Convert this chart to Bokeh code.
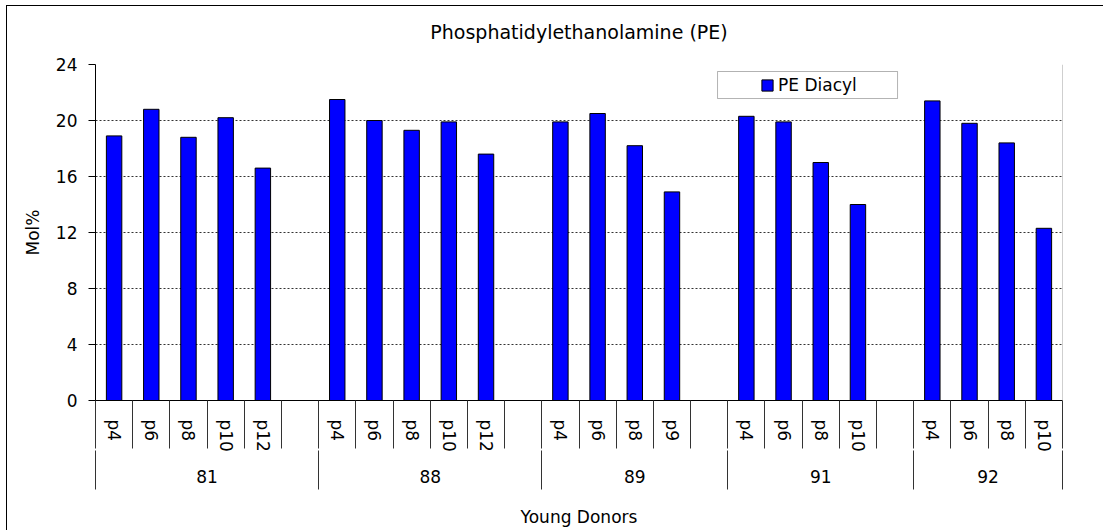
from bokeh.plotting import figure
from bokeh.models import (Range1d, FixedTicker, LinearAxis, Legend, LegendItem,
                          BoxAnnotation, Span)
from bokeh.embed import file_html
from bokeh.resources import INLINE

# ---------------- data ----------------
title_text = "Phosphatidylethanolamine (PE)"
series_name = "PE Diacyl"
y_label = "Mol%"
x_label = "Young Donors"

donors = ["81", "88", "89", "91", "92"]
passages = [
    ["p4", "p6", "p8", "p10", "p12"],
    ["p4", "p6", "p8", "p10", "p12"],
    ["p4", "p6", "p8", "p9"],
    ["p4", "p6", "p8", "p10"],
    ["p4", "p6", "p8", "p10"],
]
values = [
    [18.9, 20.8, 18.8, 20.2, 16.6],
    [21.5, 20.0, 19.3, 19.9, 17.6],
    [19.9, 20.5, 18.2, 14.9],
    [20.3, 19.9, 17.0, 14.0],
    [21.4, 19.8, 18.4, 12.3],
]
blank_slots = [1, 1, 1, 1, 0]   # empty category slots after each donor
y_ticks = [0, 4, 8, 12, 16, 20, 24]

# ---------------- category layout (2 units per slot) ----------------
centers, labels, bar_x, bar_top = [], [], [], []
slot_bounds, group_centers, group_bounds = [0], [], [0]
pos = 0
for d, ps, vs, blank in zip(donors, passages, values, blank_slots):
    start = pos
    for lab, v in zip(ps, vs):
        c = 2 * pos + 1
        centers.append(c); labels.append(lab)
        bar_x.append(c); bar_top.append(v)
        pos += 1
        slot_bounds.append(2 * pos)
    for _ in range(blank):
        pos += 1
        slot_bounds.append(2 * pos)
    group_centers.append(start + pos)
    group_bounds.append(2 * pos)
n_units = 2 * pos

FONT = "DejaVu Sans"

p = figure(width=1097, height=525, x_range=Range1d(0, n_units), y_range=Range1d(0, 24),
           output_backend="svg", toolbar_location=None, x_axis_location=None,
           min_border_left=88, min_border_right=42, min_border_top=58,
           min_border_bottom=131, title=None)
p.styles = {"margin-left": "6px", "margin-top": "5px",
            "border-left": "1px solid black", "border-top": "1px solid black"}
p.outline_line_color = None
p.background_fill_color = "white"
p.border_fill_color = "white"

# chart title, drawn as the label of a tick-less axis above the plot area
top_axis = LinearAxis(ticker=FixedTicker(ticks=[]), axis_line_color=None,
                      major_tick_out=0, major_tick_in=0, minor_tick_out=0, minor_tick_in=0,
                      major_label_standoff=0,
                      axis_label=title_text, axis_label_standoff=22,
                      axis_label_text_font=FONT, axis_label_text_font_size="19px",
                      axis_label_text_font_style="normal", axis_label_text_color="black")
p.add_layout(top_axis, "above")

for g in p.grid:
    if g.dimension == 0:
        g.visible = False
p.ygrid.ticker = FixedTicker(ticks=y_ticks)
p.ygrid.grid_line_color = "#333333"
p.ygrid.grid_line_dash = "2 2"

ya = p.yaxis[0]
ya.ticker = FixedTicker(ticks=y_ticks)
ya.major_tick_out = 7
ya.major_tick_in = 0
ya.minor_tick_out = 0
ya.minor_tick_in = 0
ya.axis_line_color = "black"
ya.major_tick_line_color = "black"
ya.major_label_standoff = 11
ya.major_label_text_font = FONT
ya.major_label_text_font_size = "17px"
ya.major_label_text_color = "black"
ya.axis_label = y_label
ya.axis_label_text_font = FONT
ya.axis_label_text_font_size = "17px"
ya.axis_label_text_font_style = "normal"
ya.axis_label_text_color = "black"
ya.axis_label_standoff = 10

ax1 = LinearAxis(ticker=FixedTicker(ticks=centers, minor_ticks=slot_bounds),
                 major_label_overrides={c: l for c, l in zip(centers, labels)},
                 major_tick_out=0, major_tick_in=0, minor_tick_out=48, minor_tick_in=0,
                 minor_tick_line_color="#333333", axis_line_color="black",
                 major_label_orientation="vertical", major_label_standoff=-29,
                 major_label_text_font=FONT, major_label_text_font_size="17px",
                 major_label_text_color="black")
p.add_layout(ax1, "below")

ax2 = LinearAxis(ticker=FixedTicker(ticks=group_centers, minor_ticks=group_bounds),
                 major_label_overrides={c: l for c, l in zip(group_centers, donors)},
                 major_tick_out=0, major_tick_in=0, minor_tick_out=35, minor_tick_in=4,
                 minor_tick_line_color="#333333", axis_line_color=None,
                 major_label_standoff=-20,
                 major_label_text_font=FONT, major_label_text_font_size="17px",
                 major_label_text_color="black",
                 axis_label=x_label, axis_label_standoff=21,
                 axis_label_text_font=FONT, axis_label_text_font_size="17px",
                 axis_label_text_font_style="normal", axis_label_text_color="black")
p.add_layout(ax2, "below")

p.add_layout(Span(location=n_units, dimension="height", line_color="#a0a0a0", line_width=1))

r = p.vbar(x=bar_x, top=bar_top, width=0.83, fill_color="#0000ff",
           line_color="black", line_width=1)

box = BoxAnnotation(left=33.45, right=43.13, bottom=21.57, top=23.5,
                    fill_color="white", fill_alpha=1, line_color="black", line_width=1)
p.add_layout(box)

legend = Legend(items=[LegendItem(label=series_name, renderers=[r])],
                location=(665, 305), padding=0, margin=0, spacing=0,
                border_line_color=None, background_fill_alpha=0,
                glyph_width=14, glyph_height=14, label_standoff=4,
                label_text_font=FONT, label_text_font_size="17px",
                label_text_color="black")
p.add_layout(legend)

open("out.html", "w").write(file_html(p, INLINE))
